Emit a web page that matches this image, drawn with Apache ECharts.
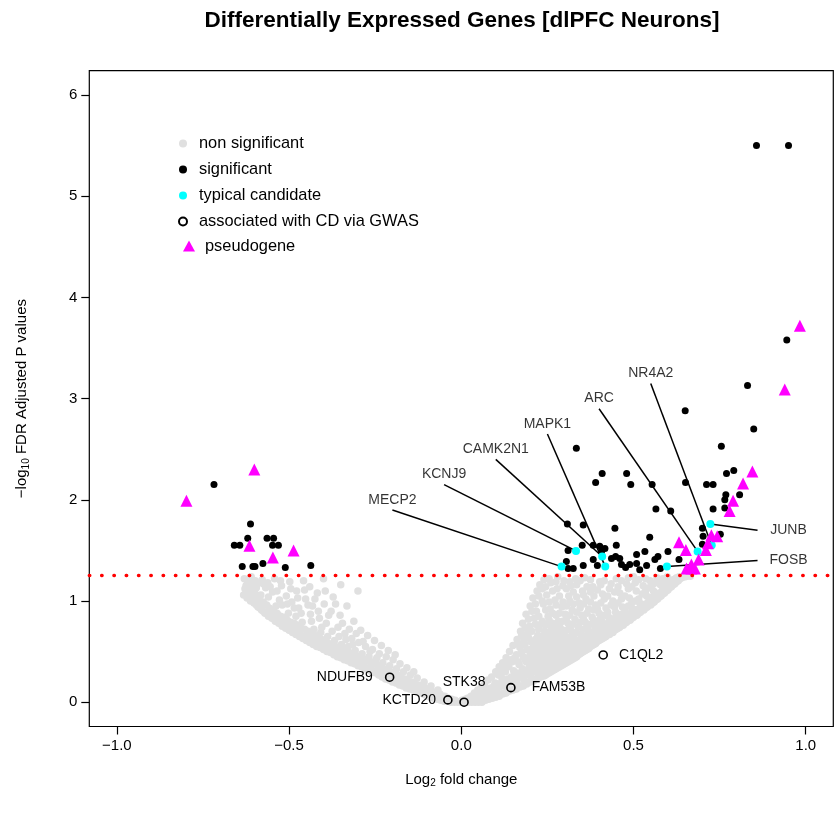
<!DOCTYPE html>
<html><head><meta charset="utf-8">
<script src="https://cdn.jsdelivr.net/npm/echarts@6/dist/echarts.min.js"></script>
<style>html,body{margin:0;padding:0;background:#fff}#c{width:837px;height:819px}</style>
</head><body><div id="c"></div>
<script>
const FONT = '"Liberation Sans", Arial, Helvetica, sans-serif';
const titleText = 'Differentially Expressed Genes [dlPFC Neurons]';
const xTicks = [-1, -0.5, 0, 0.5, 1];
const yTicks = [0, 1, 2, 3, 4, 5, 6];
const threshold = 1.25;

const nonSigPoints = [
[-0.63,1.22],[-0.628,1.12],[-0.632,1.06],[-0.62,1.19],[-0.618,1.08],[-0.622,1.03],
[-0.61,1.24],[-0.608,1.15],[-0.612,1.0],[-0.60,1.1],[-0.602,0.98],[-0.598,1.2],
[-0.59,0.94],[-0.588,1.02],[-0.592,1.17],[-0.58,0.91],[-0.582,1.06],[-0.578,1.21],
[-0.57,0.88],[-0.572,0.97],[-0.568,1.13],[-0.56,0.85],[-0.558,0.93],[-0.562,1.18],[-0.56,1.04],
[-0.55,0.83],[-0.552,0.9],[-0.548,1.09],[-0.54,0.8],[-0.538,0.95],[-0.542,1.22],
[-0.53,0.78],[-0.532,0.86],[-0.528,1.01],[-0.52,0.75],[-0.518,0.83],[-0.522,1.15],[-0.52,0.96],
[-0.51,0.73],[-0.512,0.8],[-0.508,1.05],[-0.50,0.71],[-0.502,0.88],[-0.498,1.19],
[-0.49,0.69],[-0.488,0.76],[-0.492,0.99],[-0.48,0.67],[-0.482,0.74],[-0.478,1.1],[-0.48,0.85],
[-0.47,0.65],[-0.468,0.71],[-0.472,0.93],[-0.46,0.63],[-0.462,0.79],[-0.458,1.2],
[-0.45,0.61],[-0.448,0.68],[-0.452,1.02],[-0.44,0.59],[-0.442,0.66],[-0.438,0.87],[-0.44,1.14],
[-0.43,0.57],[-0.428,0.72],[-0.432,0.95],[-0.42,0.55],[-0.422,0.62],[-0.418,1.08],
[-0.41,0.54],[-0.408,0.69],[-0.412,0.83],[-0.40,0.52],[-0.402,0.58],[-0.398,0.97],[-0.40,1.22],
[-0.39,0.5],[-0.388,0.65],[-0.392,0.78],[-0.38,0.49],[-0.382,0.56],[-0.378,0.9],
[-0.37,0.47],[-0.368,0.61],[-0.372,1.04],[-0.36,0.45],[-0.362,0.52],[-0.358,0.74],
[-0.35,0.44],[-0.348,0.57],[-0.352,0.86],[-0.35,1.16],[-0.34,0.42],[-0.342,0.49],[-0.338,0.68],
[-0.33,0.41],[-0.328,0.55],[-0.332,0.95],[-0.32,0.39],[-0.322,0.46],[-0.318,0.63],
[-0.31,0.38],[-0.308,0.51],[-0.312,0.8],[-0.30,0.36],[-0.302,0.43],[-0.298,0.59],[-0.30,1.1],
[-0.29,0.35],[-0.288,0.48],[-0.292,0.71],[-0.28,0.33],[-0.282,0.4],[-0.278,0.55],
[-0.27,0.32],[-0.268,0.45],[-0.272,0.66],[-0.26,0.3],[-0.262,0.37],[-0.258,0.52],
[-0.25,0.29],[-0.248,0.42],[-0.252,0.61],[-0.24,0.27],[-0.242,0.34],[-0.238,0.48],
[-0.23,0.25],[-0.228,0.39],[-0.232,0.56],[-0.22,0.23],[-0.222,0.31],[-0.218,0.45],
[-0.21,0.22],[-0.208,0.36],[-0.212,0.51],[-0.20,0.2],[-0.202,0.28],[-0.198,0.42],
[-0.19,0.19],[-0.188,0.33],[-0.192,0.47],[-0.18,0.17],[-0.182,0.25],[-0.178,0.38],
[-0.17,0.16],[-0.168,0.3],[-0.16,0.14],[-0.162,0.22],[-0.158,0.34],[-0.15,0.13],[-0.148,0.27],
[-0.14,0.12],[-0.142,0.19],[-0.138,0.3],[-0.13,0.1],[-0.128,0.24],[-0.12,0.09],[-0.122,0.16],
[-0.11,0.08],[-0.108,0.2],[-0.10,0.06],[-0.102,0.13],[-0.09,0.05],[-0.088,0.16],
[-0.08,0.04],[-0.082,0.1],[-0.07,0.03],[-0.068,0.12],[-0.06,0.02],[-0.062,0.08],
[-0.05,0.01],[-0.048,0.06],[-0.04,0.01],[-0.038,0.04],[-0.03,0.0],[-0.028,0.03],
[-0.02,0.0],[-0.018,0.02],[-0.01,0.0],
[-0.625,1.07],[-0.625,1.15],[-0.615,1.03],[-0.615,1.11],[-0.605,1.0],[-0.605,1.07],[-0.595,0.96],[-0.595,1.05],
[-0.585,0.93],[-0.585,1.0],[-0.575,0.9],[-0.575,0.99],[-0.565,0.88],[-0.565,0.96],[-0.555,0.85],[-0.555,0.92],
[-0.545,0.83],[-0.545,0.9],[-0.535,0.8],[-0.535,0.88],[-0.525,0.78],[-0.525,0.85],[-0.515,0.76],[-0.515,0.84],
[-0.505,0.74],[-0.505,0.81],[-0.495,0.72],[-0.495,0.79],[-0.485,0.7],[-0.485,0.78],[-0.475,0.68],[-0.475,0.76],
[-0.465,0.66],[-0.465,0.73],[-0.455,0.64],[-0.455,0.72],[-0.445,0.62],[-0.445,0.7],[-0.435,0.6],[-0.435,0.68],
[-0.425,0.58],[-0.425,0.66],[-0.415,0.56],[-0.415,0.64],[-0.405,0.55],[-0.405,0.62],[-0.395,0.53],[-0.395,0.6],
[-0.385,0.51],[-0.385,0.58],[-0.375,0.5],[-0.375,0.57],[-0.365,0.48],[-0.365,0.55],[-0.355,0.46],[-0.355,0.53],
[-0.345,0.45],[-0.345,0.52],[-0.335,0.43],[-0.335,0.5],[-0.325,0.42],[-0.325,0.49],[-0.315,0.4],[-0.315,0.47],
[-0.305,0.39],[-0.305,0.46],[-0.295,0.37],[-0.295,0.44],[-0.285,0.36],[-0.285,0.43],[-0.275,0.34],[-0.275,0.41],
[-0.265,0.33],[-0.265,0.4],[-0.255,0.31],[-0.255,0.38],[-0.245,0.3],[-0.245,0.37],[-0.235,0.28],[-0.235,0.35],
[-0.225,0.26],[-0.225,0.33],[-0.215,0.24],[-0.215,0.32],[-0.205,0.23],[-0.205,0.3],[-0.195,0.21],[-0.195,0.28],
[-0.185,0.2],[-0.185,0.27],[-0.175,0.18],[-0.175,0.25],[-0.165,0.17],[-0.165,0.23],[-0.155,0.15],[-0.155,0.21],
[-0.145,0.14],[-0.145,0.2],[-0.135,0.12],[-0.135,0.18],[-0.125,0.11],[-0.125,0.17],[-0.115,0.1],[-0.115,0.15],
[-0.105,0.08],[-0.105,0.14],[-0.095,0.07],[-0.095,0.12],[-0.085,0.06],[-0.085,0.1],[-0.075,0.05],[-0.075,0.09],
[-0.065,0.04],[-0.065,0.07],[-0.055,0.03],[-0.055,0.06],[-0.045,0.02],[-0.045,0.05],[-0.035,0.01],[-0.035,0.03],
[-0.025,0.01],[-0.025,0.02],[-0.015,0.01],
[-0.615,1.2],[-0.595,1.13],[-0.575,1.17],[-0.555,1.14],[-0.535,1.1],[-0.525,1.2],[-0.505,0.97],[-0.495,1.12],
[-0.485,0.93],[-0.475,1.03],[-0.465,0.88],[-0.455,1.11],[-0.445,0.96],[-0.435,0.8],[-0.425,1.02],[-0.415,0.9],
[-0.405,0.74],[-0.395,1.1],[-0.385,0.86],[-0.375,0.7],[-0.365,0.97],[-0.355,0.65],[-0.345,0.78],[-0.335,0.62],
[-0.325,0.72],[-0.315,0.57],[-0.305,0.68],[-0.285,0.6],[-0.265,0.5],[-0.245,0.44],
[0.0,0.0],[0.002,0.02],[0.01,0.0],[0.012,0.03],[0.02,0.0],[0.018,0.04],
[0.03,0.0],[0.032,0.01],[0.028,0.06],[0.04,0.0],[0.042,0.02],[0.038,0.09],
[0.05,0.0],[0.052,0.03],[0.048,0.12],[0.06,0.0],[0.062,0.04],[0.058,0.15],
[0.07,0.02],[0.072,0.08],[0.068,0.18],[0.08,0.03],[0.082,0.1],[0.078,0.22],
[0.09,0.04],[0.092,0.13],[0.088,0.25],[0.10,0.05],[0.102,0.11],[0.098,0.19],[0.10,0.3],
[0.11,0.06],[0.112,0.15],[0.108,0.27],[0.11,0.35],[0.12,0.08],[0.122,0.17],[0.118,0.24],[0.12,0.39],
[0.13,0.09],[0.132,0.14],[0.128,0.3],[0.13,0.44],[0.14,0.11],[0.142,0.2],[0.138,0.35],[0.14,0.5],
[0.15,0.12],[0.152,0.23],[0.148,0.4],[0.15,0.56],[0.152,0.31],
[0.16,0.13],[0.162,0.19],[0.158,0.29],[0.16,0.47],[0.162,0.62],
[0.17,0.15],[0.172,0.26],[0.168,0.37],[0.17,0.54],[0.172,0.7],
[0.18,0.16],[0.182,0.22],[0.178,0.33],[0.18,0.45],[0.182,0.61],[0.178,0.78],
[0.19,0.18],[0.192,0.28],[0.188,0.4],[0.19,0.52],[0.192,0.68],[0.188,0.87],
[0.20,0.2],[0.202,0.25],[0.198,0.36],[0.2,0.48],[0.202,0.6],[0.198,0.75],[0.2,0.95],
[0.21,0.21],[0.212,0.31],[0.208,0.43],[0.21,0.57],[0.212,0.83],[0.208,1.03],
[0.22,0.23],[0.222,0.29],[0.218,0.39],[0.22,0.52],[0.222,0.66],[0.218,0.9],[0.22,1.1],
[0.23,0.25],[0.232,0.35],[0.228,0.46],[0.23,0.6],[0.232,0.77],[0.228,1.16],
[0.24,0.26],[0.242,0.32],[0.238,0.42],[0.24,0.55],[0.242,0.7],[0.238,0.97],[0.24,1.21],
[0.25,0.28],[0.252,0.38],[0.248,0.5],[0.25,0.64],[0.252,0.85],[0.248,1.06],
[0.26,0.3],[0.262,0.36],[0.258,0.45],[0.26,0.58],[0.262,0.74],[0.258,0.92],[0.26,1.18],
[0.27,0.32],[0.272,0.41],[0.268,0.53],[0.27,0.68],[0.272,1.01],
[0.28,0.34],[0.282,0.39],[0.278,0.48],[0.28,0.62],[0.282,0.8],[0.278,1.12],[0.28,1.24],
[0.29,0.36],[0.292,0.44],[0.288,0.57],[0.29,0.72],[0.292,0.94],
[0.30,0.38],[0.302,0.42],[0.298,0.52],[0.3,0.66],[0.302,0.87],[0.298,1.2],
[0.31,0.4],[0.312,0.47],[0.308,0.6],[0.31,0.78],[0.312,1.05],
[0.32,0.42],[0.322,0.46],[0.318,0.55],[0.32,0.7],[0.322,0.91],[0.318,1.15],
[0.33,0.44],[0.332,0.51],[0.328,0.63],[0.33,0.82],[0.332,1.22],
[0.34,0.47],[0.342,0.5],[0.338,0.58],[0.34,0.74],[0.342,0.98],
[0.35,0.49],[0.352,0.54],[0.348,0.67],[0.35,0.86],[0.352,1.1],
[0.36,0.51],[0.362,0.56],[0.358,0.62],[0.36,0.79],[0.362,1.02],[0.358,1.23],
[0.37,0.53],[0.372,0.59],[0.368,0.71],[0.37,0.92],
[0.38,0.56],[0.382,0.6],[0.378,0.66],[0.38,0.84],[0.382,1.14],
[0.39,0.58],[0.392,0.64],[0.388,0.75],[0.39,0.96],
[0.40,0.61],[0.402,0.65],[0.398,0.7],[0.4,0.88],[0.402,1.19],
[0.41,0.63],[0.412,0.68],[0.408,0.8],[0.41,1.07],
[0.42,0.65],[0.422,0.69],[0.418,0.74],[0.42,0.93],
[0.43,0.67],[0.432,0.72],[0.428,0.84],[0.43,1.12],
[0.44,0.69],[0.442,0.73],[0.438,0.78],[0.44,1.0],
[0.45,0.72],[0.452,0.76],[0.448,0.89],[0.45,1.22],
[0.46,0.74],[0.462,0.79],[0.458,0.82],[0.46,1.08],
[0.47,0.76],[0.472,0.8],[0.468,0.94],
[0.48,0.79],[0.482,0.83],[0.478,0.88],[0.48,1.17],
[0.49,0.81],[0.492,0.86],[0.488,1.03],
[0.50,0.84],[0.502,0.87],[0.498,0.92],[0.5,1.24],
[0.51,0.86],[0.512,0.9],[0.508,1.1],[0.52,0.89],[0.522,0.93],[0.518,0.98],
[0.53,0.91],[0.532,0.95],[0.528,1.15],[0.54,0.94],[0.542,0.98],[0.538,1.05],
[0.55,0.96],[0.552,1.0],[0.548,1.2],[0.56,0.99],[0.562,1.03],[0.558,1.1],
[0.57,1.02],[0.572,1.06],[0.568,1.23],[0.58,1.05],[0.582,1.09],[0.578,1.16],
[0.59,1.08],[0.592,1.12],[0.588,1.21],[0.60,1.11],[0.602,1.15],[0.598,1.24],
[0.61,1.14],[0.612,1.18],[0.62,1.17],[0.622,1.22],[0.63,1.2],[0.632,1.24],
[0.64,1.23],[0.65,1.24],
[0.005,0.01],[0.015,0.01],[0.015,0.02],[0.025,0.02],[0.025,0.04],[0.035,0.02],[0.035,0.05],
[0.045,0.03],[0.045,0.07],[0.055,0.04],[0.055,0.09],[0.065,0.03],[0.065,0.1],[0.075,0.04],[0.075,0.12],
[0.085,0.05],[0.085,0.14],[0.095,0.06],[0.095,0.16],[0.105,0.07],[0.105,0.17],
[0.115,0.08],[0.115,0.19],[0.115,0.3],[0.125,0.09],[0.125,0.21],[0.125,0.33],
[0.135,0.11],[0.135,0.23],[0.135,0.38],[0.145,0.12],[0.145,0.25],[0.145,0.42],
[0.155,0.13],[0.155,0.27],[0.155,0.44],[0.165,0.15],[0.165,0.24],[0.165,0.4],[0.165,0.58],
[0.175,0.16],[0.175,0.3],[0.175,0.49],[0.175,0.66],
[0.185,0.18],[0.185,0.27],[0.185,0.42],[0.185,0.57],[0.185,0.73],
[0.195,0.2],[0.195,0.32],[0.195,0.44],[0.195,0.64],[0.195,0.82],
[0.205,0.21],[0.205,0.29],[0.205,0.4],[0.205,0.53],[0.205,0.7],[0.205,0.9],
[0.215,0.23],[0.215,0.34],[0.215,0.48],[0.215,0.62],[0.215,0.77],[0.215,0.97],
[0.225,0.24],[0.225,0.33],[0.225,0.44],[0.225,0.56],[0.225,0.72],[0.225,0.85],[0.225,1.05],
[0.235,0.26],[0.235,0.3],[0.235,0.4],[0.235,0.51],[0.235,0.65],[0.235,0.8],[0.235,1.0],[0.235,1.12],
[0.245,0.27],[0.245,0.36],[0.245,0.47],[0.245,0.6],[0.245,0.76],[0.245,0.91],[0.245,1.14],
[0.255,0.29],[0.255,0.33],[0.255,0.43],[0.255,0.55],[0.255,0.69],[0.255,0.81],[0.255,0.99],[0.255,1.22],
[0.265,0.31],[0.265,0.39],[0.265,0.49],[0.265,0.63],[0.265,0.78],[0.265,0.88],[0.265,1.1],
[0.275,0.33],[0.275,0.37],[0.275,0.45],[0.275,0.57],[0.275,0.73],[0.275,0.86],[0.275,0.96],[0.275,1.19],
[0.285,0.35],[0.285,0.42],[0.285,0.52],[0.285,0.67],[0.285,0.76],[0.285,0.88],[0.285,1.05],
[0.295,0.37],[0.295,0.4],[0.295,0.48],[0.295,0.61],[0.295,0.8],[0.295,0.99],[0.295,1.15],
[0.305,0.39],[0.305,0.44],[0.305,0.56],[0.305,0.71],[0.305,0.83],[0.305,0.95],[0.305,1.12],
[0.315,0.41],[0.315,0.5],[0.315,0.64],[0.315,0.74],[0.315,0.86],[0.315,1.0],[0.315,1.19],
[0.325,0.43],[0.325,0.48],[0.325,0.58],[0.325,0.67],[0.325,0.77],[0.325,0.97],[0.325,1.09],
[0.335,0.45],[0.335,0.54],[0.335,0.69],[0.335,0.89],[0.335,1.04],[0.335,1.16],
[0.345,0.48],[0.345,0.52],[0.345,0.62],[0.345,0.79],[0.345,0.93],[0.345,1.2],
[0.355,0.5],[0.355,0.58],[0.355,0.72],[0.355,0.82],[0.355,0.97],[0.355,1.06],
[0.365,0.52],[0.365,0.57],[0.365,0.66],[0.365,0.75],[0.365,0.88],[0.365,1.14],
[0.375,0.55],[0.375,0.63],[0.375,0.77],[0.375,0.99],[0.375,1.09],[0.375,1.21],
[0.385,0.57],[0.385,0.62],[0.385,0.7],[0.385,0.81],[0.385,0.91],[0.385,1.05],
[0.395,0.6],[0.395,0.67],[0.395,0.8],[0.395,0.92],[0.395,1.11],
[0.405,0.62],[0.405,0.66],[0.405,0.74],[0.405,0.84],[0.405,0.98],[0.405,1.16],
[0.415,0.64],[0.415,0.71],[0.415,0.86],[0.415,1.02],[0.415,1.2],
[0.425,0.67],[0.425,0.71],[0.425,0.78],[0.425,0.89],[0.425,1.05],
[0.435,0.69],[0.435,0.75],[0.435,0.81],[0.435,0.96],[0.435,1.17],
[0.445,0.71],[0.445,0.75],[0.445,0.83],[0.445,0.94],[0.445,1.09],
[0.455,0.73],[0.455,0.78],[0.455,0.85],[0.455,0.98],[0.455,1.14],
[0.465,0.76],[0.465,0.8],[0.465,0.87],[0.465,1.02],[0.465,1.2],
[0.475,0.78],[0.475,0.82],[0.475,0.91],[0.475,1.05],
[0.485,0.81],[0.485,0.85],[0.485,0.95],[0.485,1.12],[0.485,1.23],
[0.495,0.83],[0.495,0.89],[0.495,0.98],[0.495,1.14],
[0.505,0.86],[0.505,0.91],[0.505,1.0],[0.505,1.18],
[0.515,0.88],[0.515,0.92],[0.515,1.02],[0.515,1.21],
[0.525,0.91],[0.525,0.96],[0.525,1.07],[0.535,0.93],[0.535,0.97],[0.535,1.1],[0.535,1.22],
[0.545,0.96],[0.545,1.01],[0.545,1.13],[0.555,0.98],[0.555,1.04],[0.555,1.16],
[0.565,1.01],[0.565,1.05],[0.565,1.18],[0.575,1.04],[0.575,1.08],[0.575,1.2],
[0.585,1.07],[0.585,1.13],[0.585,1.22],[0.595,1.1],[0.595,1.14],[0.595,1.19],
[0.605,1.13],[0.605,1.2],[0.615,1.16],[0.615,1.21],[0.625,1.19],[0.625,1.23],
[0.635,1.22],[0.645,1.24],[0.655,1.245],[0.665,1.245]
];

const sigPoints = [
[-0.718,2.15],[-0.612,1.76],[-0.620,1.62],[-0.659,1.55],[-0.643,1.55],[-0.564,1.62],[-0.545,1.62],
[-0.548,1.55],[-0.531,1.55],[-0.636,1.34],[-0.605,1.34],[-0.599,1.34],[-0.576,1.37],[-0.511,1.33],[-0.437,1.35],
[0.857,5.50],[0.950,5.50],[0.945,3.58],[0.831,3.13],[0.650,2.88],[0.849,2.70],[0.334,2.51],[0.755,2.53],
[0.409,2.26],[0.390,2.17],[0.480,2.26],[0.492,2.15],[0.554,2.15],[0.651,2.17],[0.712,2.15],[0.731,2.15],
[0.770,2.26],[0.791,2.29],[0.808,2.05],[0.768,2.05],[0.765,2.00],[0.765,1.92],[0.731,1.91],[0.565,1.91],[0.608,1.89],
[0.308,1.76],[0.354,1.75],[0.446,1.72],[0.700,1.72],[0.547,1.63],[0.702,1.64],[0.752,1.66],
[0.310,1.50],[0.351,1.55],[0.383,1.55],[0.402,1.54],[0.417,1.52],[0.407,1.49],[0.450,1.55],[0.700,1.56],
[0.600,1.49],[0.533,1.49],[0.509,1.46],
[0.305,1.39],[0.310,1.32],[0.325,1.32],[0.354,1.35],[0.383,1.41],[0.395,1.35],[0.436,1.42],[0.448,1.44],
[0.460,1.42],[0.465,1.36],[0.477,1.33],[0.489,1.36],[0.509,1.37],[0.518,1.31],[0.538,1.35],[0.562,1.41],
[0.571,1.44],[0.578,1.32],[0.632,1.41]
];

const candidateNames = ['MECP2','KCNJ9','CAMK2N1','MAPK1','ARC','NR4A2','JUNB','FOSB'];
const candidatePoints = [[0.291,1.34],[0.333,1.495],[0.409,1.44],[0.418,1.34],[0.686,1.49],[0.727,1.55],[0.723,1.76],[0.597,1.34]];
const candidateLabelPos = [[-0.2,2.0],[-0.05,2.25],[0.1,2.5],[0.25,2.75],[0.4,3.0],[0.55,3.25],[0.95,1.70],[0.95,1.40]];
const candidateLineStart = [[-0.2,1.9],[-0.05,2.15],[0.1,2.4],[0.25,2.65],[0.4,2.9],[0.55,3.15],[0.86,1.70],[0.86,1.40]];

const gwasNames = ['NDUFB9','KCTD20','STK38','FAM53B','C1QL2'];
const gwasPoints = [[-0.208,0.247],[-0.039,0.023],[0.008,0.0],[0.144,0.144],[0.412,0.467]];

const pseudoPoints = [
[-0.798,1.99],[-0.601,2.30],[-0.615,1.545],[-0.547,1.43],[-0.487,1.50],
[0.983,3.72],[0.939,3.09],[0.845,2.28],[0.818,2.16],[0.789,1.99],[0.779,1.89],
[0.632,1.58],[0.652,1.505],[0.726,1.65],[0.743,1.64],[0.716,1.57],[0.710,1.505],[0.689,1.41],
[0.654,1.32],[0.668,1.32],[0.678,1.32],[0.668,1.36]
];

const gwasLabelStyle = {
  NDUFB9: {position: 'left', distance: 12},
  KCTD20: {position: 'left', distance: 7},
  STK38: {position: 'top', distance: 8},
  FAM53B: {position: 'right', distance: 16},
  C1QL2: {position: 'right', distance: 11}
};

const chart = echarts.init(document.getElementById('c'), null, {renderer: 'canvas'});

chart.setOption({
  animation: false,
  backgroundColor: '#fff',
  textStyle: {fontFamily: FONT},
  title: {
    text: titleText, left: 457, top: 4, textAlign: 'center',
    textStyle: {fontFamily: FONT, fontWeight: 'bold', fontSize: 22.5, color: '#000'}
  },
  legend: [
    {
      data: ['non significant', 'significant', 'typical candidate', 'associated with CD via GWAS'],
      orient: 'vertical', left: 173, top: 130.5, itemWidth: 22, itemHeight: 8, itemGap: 10,
      textStyle: {fontFamily: FONT, fontSize: 16.4, color: '#000'}, selectedMode: false
    },
    {
      data: ['pseudogene'],
      orient: 'vertical', left: 178, top: 233, itemWidth: 12, itemHeight: 11,
      textStyle: {fontFamily: FONT, fontSize: 16.4, color: '#000', padding: [0, 0, 0, 5]}, selectedMode: false
    }
  ],
  grid: {left: 89.3, right: 3.7, top: 70.7, bottom: 92.5, show: true, borderColor: '#000', borderWidth: 1.2, backgroundColor: 'transparent'},
  xAxis: {
    type: 'value', min: -1.08, max: 1.08,
    axisLine: {show: false, onZero: false}, splitLine: {show: false},
    axisTick: {show: true, inside: false, customValues: xTicks, length: 8, lineStyle: {color: '#000', width: 1.2}},
    axisLabel: {customValues: xTicks, margin: 12, fontSize: 15, color: '#000', fontFamily: FONT,
      formatter: v => v.toFixed(1).replace('-', '\u2212')},
    name: '{a|Log}{s|2}{a| fold change}', nameLocation: 'middle', nameGap: 44,
    nameTextStyle: {rich: {a: {fontSize: 15, color: '#000', fontFamily: FONT, lineHeight: 18},
      s: {fontSize: 10, color: '#000', fontFamily: FONT, verticalAlign: 'bottom', lineHeight: 12}}}
  },
  yAxis: {
    type: 'value', min: -0.24, max: 6.24,
    axisLine: {show: false, onZero: false}, splitLine: {show: false},
    axisTick: {show: true, inside: false, customValues: yTicks, length: 8, lineStyle: {color: '#000', width: 1.2}},
    axisLabel: {customValues: yTicks, margin: 12, fontSize: 15, color: '#000', fontFamily: FONT,
      formatter: v => String(v)},
    name: '{a|\u2212log}{s|10}{a| FDR Adjusted P values}', nameLocation: 'middle', nameGap: 58, nameRotate: 90,
    nameTextStyle: {rich: {a: {fontSize: 15, color: '#000', fontFamily: FONT, lineHeight: 18},
      s: {fontSize: 10, color: '#000', fontFamily: FONT, verticalAlign: 'bottom', lineHeight: 12}}}
  },
  series: [
    {
      name: 'non significant', type: 'scatter', symbol: 'circle', symbolSize: 7.5,
      itemStyle: {color: '#e0e0e0', opacity: 1}, data: nonSigPoints, silent: true, large: false,
      markLine: {
        silent: true, symbol: 'none', label: {show: false},
        lineStyle: {color: '#ff0000', type: [0.5, 11.8], width: 3.4, cap: 'round'},
        data: [{yAxis: threshold}]
      }
    },
    {
      name: 'significant', type: 'scatter', symbol: 'circle', symbolSize: 7,
      itemStyle: {color: '#000', opacity: 1}, data: sigPoints, silent: true
    },
    {
      name: 'leaders', type: 'lines', coordinateSystem: 'cartesian2d', silent: true,
      lineStyle: {color: '#000', width: 1.5, opacity: 1},
      data: candidateNames.map((n, i) => ({coords: [candidateLineStart[i], candidatePoints[i]]}))
    },
    {
      name: 'typical candidate', type: 'scatter', symbol: 'circle', symbolSize: 8,
      itemStyle: {color: '#00ffff', opacity: 1}, data: candidatePoints, silent: true
    },
    {
      name: 'pseudogene', type: 'scatter', symbol: 'triangle', symbolSize: 12,
      itemStyle: {color: '#ff00ff', opacity: 1}, data: pseudoPoints, silent: true
    },
    {
      name: 'associated with CD via GWAS', type: 'scatter', symbol: 'circle', symbolSize: 8,
      itemStyle: {color: 'rgba(255,255,255,0)', borderColor: '#000', borderWidth: 1.6, opacity: 1},
      silent: true,
      data: gwasNames.map((n, i) => ({
        name: n, value: gwasPoints[i],
        label: Object.assign({show: true, formatter: '{b}', fontSize: 14, color: '#000', fontFamily: FONT}, gwasLabelStyle[n])
      }))
    },
    {
      name: 'gene labels', type: 'scatter', symbol: 'circle', symbolSize: 1, silent: true,
      itemStyle: {color: 'rgba(0,0,0,0)'},
      label: {show: true, position: 'inside', formatter: '{b}', fontSize: 14, color: '#000', fontFamily: FONT},
      data: candidateNames.map((n, i) => ({name: n, value: candidateLabelPos[i]}))
    }
  ]
});
</script></body></html>
